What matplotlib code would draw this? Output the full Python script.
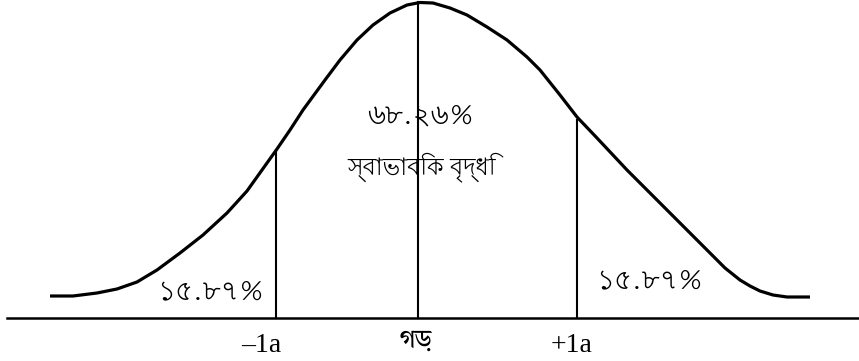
import matplotlib
matplotlib.use("Agg")
import matplotlib.pyplot as plt

# ---------------------------------------------------------------------------
# 数据（画布单位，原点左上，与参考图像素对应）
# ---------------------------------------------------------------------------
curve_x = [50, 73, 97, 117, 137, 157, 180, 203, 227, 247, 262, 277, 290, 303,
           325, 340, 357, 373, 390, 407, 420, 433, 450, 467, 487, 507, 527,
           540, 560, 577, 597, 612, 627, 652, 677, 695, 710, 725, 740, 750,
           760, 773, 787, 810]
curve_y = [296, 296, 293, 289, 282, 270, 253, 235, 213, 191, 170, 149, 130, 110,
           80, 60, 40, 25, 13, 5, 2.5, 3, 8, 15, 27, 40, 57,
           70, 95, 117, 138, 154, 170, 195, 220, 238, 253, 268, 280, 286,
           291, 295, 297, 297]

axis_y = 318
axis_x = [7, 859]

# 三条竖线：-1a、均值、+1a
vline_x = [276, 418, 577]
vline_top = [150, 2, 120]

pct_mid = "৬৮.২৬%"
mid_label = "স্বাভাবিক বৃদ্ধি"
pct_tail = "১৫.৮৭%"
tick_labels = ["–1a", "গড়", "+1a"]

BN = ["Lohit Bengali", "DejaVu Sans"]
BN2 = ["Tiro Bangla", "DejaVu Sans"]   # 'ড়' 的点在 Lohit 里位置不对
SERIF = ["Liberation Serif", "DejaVu Serif"]

fig = plt.figure(figsize=(8.59, 3.61), dpi=100)
ax = fig.add_axes([0, 0, 1, 1])
ax.set_xlim(0, 859)
ax.set_ylim(361, 0)
ax.axis("off")

ax.plot(curve_x, curve_y, color="black", lw=2.3,
        solid_joinstyle="round", solid_capstyle="butt")
ax.plot(axis_x, [axis_y, axis_y], color="black", lw=1.8)
for x, top in zip(vline_x, vline_top):
    ax.plot([x, x], [top, axis_y], color="black", lw=1.5)

ax.text(421, 115, pct_mid, ha="center", va="center", fontsize=20, family=BN)
ax.text(422, 167, mid_label, ha="center", va="center", fontsize=17, family=BN)
ax.text(211, 291, pct_tail, ha="center", va="center", fontsize=20, family=BN)
ax.text(650, 280, pct_tail, ha="center", va="center", fontsize=20, family=BN)

ax.text(261, 345, tick_labels[0], ha="center", va="center", fontsize=20, family=SERIF)
ax.text(416, 340, tick_labels[1], ha="center", va="center", fontsize=19, family=BN2)
ax.text(572, 345, tick_labels[2], ha="center", va="center", fontsize=20, family=SERIF)

fig.savefig("out.png", dpi=100)
